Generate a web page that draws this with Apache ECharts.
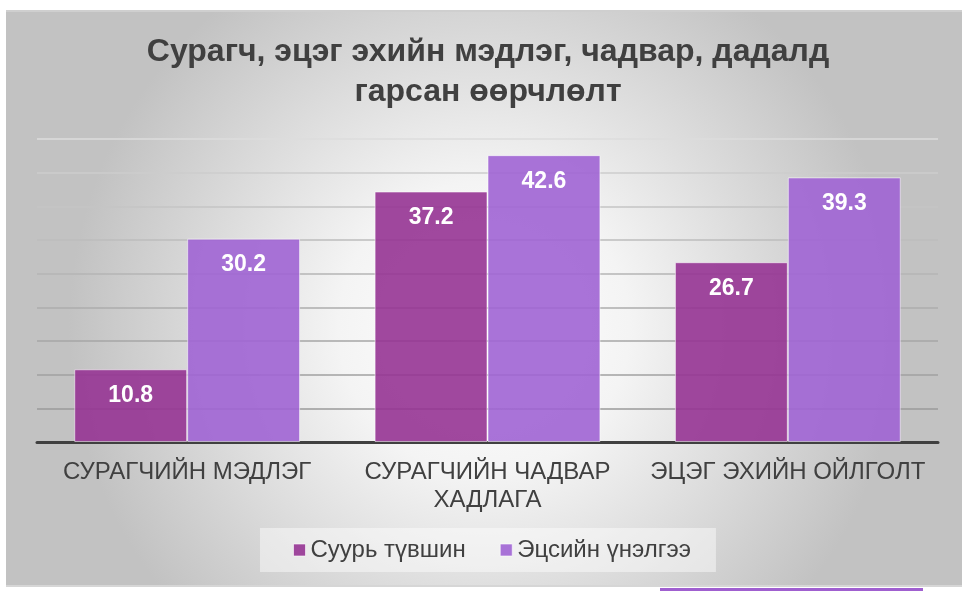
<!DOCTYPE html>
<html>
<head>
<meta charset="utf-8">
<script src="https://cdn.jsdelivr.net/npm/echarts@6/dist/echarts.min.js"></script>
<style>
html,body{margin:0;padding:0;background:#fff;}
#chart{width:962px;height:591px;}
</style>
</head>
<body>
<div id="chart"></div>
<script>
var titleText = 'Сурагч, эцэг эхийн мэдлэг, чадвар, дадалд\nгарсан өөрчлөлт';
var categories = ['СУРАГЧИЙН МЭДЛЭГ', 'СУРАГЧИЙН ЧАДВАР\nХАДЛАГА', 'ЭЦЭГ ЭХИЙН ОЙЛГОЛТ'];
var seriesNames = ['Суурь түвшин', 'Эцсийн үнэлгээ'];
var baseValues = [10.8, 37.2, 26.7];
var finalValues = [30.2, 42.6, 39.3];
var yMin = 0, yMax = 45, yStep = 5;

var FONT = '"Liberation Sans", Arial, sans-serif';
var chart = echarts.init(document.getElementById('chart'), null, {renderer: 'canvas'});
var labelStyle = {
  show: true, position: 'insideTop', distance: 15,
  color: '#ffffff', fontWeight: 'bold', fontSize: 23, fontFamily: FONT
};
chart.setOption({
  animation: false,
  graphic: [
    {type: 'rect', silent: true, z: -10, shape: {x: 6, y: 10, width: 956, height: 577},
     style: {fill: new echarts.graphic.RadialGradient(0.5, 0.55, 0.72, [
       {offset: 0, color: '#ffffff'}, {offset: 0.35, color: '#f4f4f4'}, {offset: 1, color: '#c2c2c2'}])}},
    {type: 'rect', silent: true, z: -9, shape: {x: 6, y: 10, width: 956, height: 2},
     style: {fill: '#cfcfcf'}},
    {type: 'rect', silent: true, z: -9, shape: {x: 6, y: 585, width: 956, height: 2},
     style: {fill: '#d6d6d6'}},
    {type: 'rect', silent: true, z: -9, shape: {x: 660, y: 588, width: 263, height: 3},
     style: {fill: '#a060d0'}}
  ],
  title: {
    text: titleText, left: 483, top: 27, textAlign: 'center',
    textStyle: {fontFamily: FONT, fontWeight: 'bold', fontSize: 32, color: '#404040', lineHeight: 40}
  },
  legend: {
    data: seriesNames, left: 260, top: 528, padding: [10, 25, 10, 33],
    backgroundColor: 'rgba(255,255,255,0.45)',
    itemWidth: 12, itemHeight: 12, itemGap: 34, icon: 'rect',
    itemStyle: {borderColor: 'rgba(255,255,255,0.6)', borderWidth: 1},
    textStyle: {fontFamily: FONT, fontSize: 24, color: '#404040', lineHeight: 24}
  },
  grid: {left: 37, right: 24, top: 139, bottom: 149, containLabel: false},
  xAxis: {
    type: 'category', data: categories,
    axisLine: {lineStyle: {color: '#404040', width: 3}},
    axisTick: {show: false},
    axisLabel: {fontFamily: FONT, fontSize: 24, color: '#404040', margin: 16, lineHeight: 28, interval: 0}
  },
  yAxis: {
    type: 'value', min: yMin, max: yMax, interval: yStep,
    axisLabel: {show: false}, axisLine: {show: false}, axisTick: {show: false},
    splitLine: {lineStyle: {width: 1.5, color: ['#999999', '#9a9a9a', '#a0a0a0', '#a6a6a6', '#adadad', '#b4b4b4', '#bcbcbc', '#c4c4c4', '#cccccc', '#dddddd']}}
  },
  series: [
    {name: seriesNames[0], type: 'bar', data: baseValues, barWidth: '37.6%', barGap: '0%',
     itemStyle: {color: 'rgba(150,52,148,0.9)', borderColor: 'rgba(255,255,255,0.55)', borderWidth: 1},
     label: labelStyle},
    {name: seriesNames[1], type: 'bar', data: finalValues, barWidth: '37.6%', barGap: '0%',
     itemStyle: {color: 'rgba(160,100,212,0.9)', borderColor: 'rgba(255,255,255,0.55)', borderWidth: 1},
     label: labelStyle}
  ]
});
</script>
</body>
</html>
